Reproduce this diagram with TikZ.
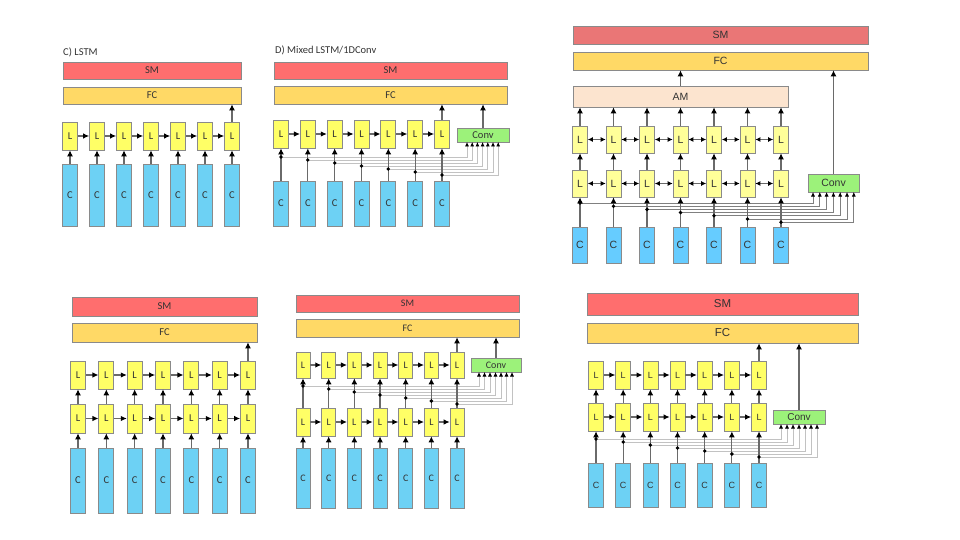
\documentclass[tikz,border=0pt]{standalone}
\usepackage{fontspec}
\setmainfont{Carlito}
\newfontfamily\arialfont{Liberation Sans}
\usetikzlibrary{arrows.meta}
\usepackage{xcolor}

\definecolor{smred}{HTML}{FF6E6E}
\definecolor{smdull}{HTML}{EA7676}
\definecolor{fcgold}{HTML}{FFD966}
\definecolor{lyel}{HTML}{FFFF66}
\definecolor{lpale}{HTML}{FFFF99}
\definecolor{cblue}{HTML}{6DD1F4}
\definecolor{cbright}{HTML}{66CCFF}
\definecolor{convgreen}{HTML}{9CF27A}
\definecolor{amcol}{HTML}{FCE4CF}
\definecolor{boxline}{HTML}{8A8A8A}
\definecolor{wire}{HTML}{6A6A6A}
\definecolor{routegray}{HTML}{C2C2C2}

\begin{document}
\begin{tikzpicture}[x=1pt,y=-1pt,
    blk/.style={draw=boxline, line width=0.7pt, inner sep=0pt, text=black!80,
      font=\fontsize{10.5}{12}\selectfont},
    smbar/.style={blk, fill=smred},
    fcbar/.style={blk, fill=fcgold},
    lcell/.style={blk, fill=lyel, minimum width=15pt},
    ccell/.style={blk, fill=cblue, minimum width=15pt},
    convbox/.style={blk, fill=convgreen},
    ambar/.style={blk, fill=amcol},
    ttl/.style={inner sep=0pt, text=black!80, font=\fontsize{10.5}{12}\selectfont},
    feed/.style={draw=wire, line width=1.1pt, -{Latex[length=6pt,width=6pt,color=black]}},
    link/.style={draw=wire, line width=1.1pt, -{Latex[length=6pt,width=5.5pt,color=black]}},
    bilink/.style={draw=wire, line width=1.1pt,
      {Latex[length=5pt,width=5pt,color=black]}-{Latex[length=5pt,width=5pt,color=black]}},
    route/.style={draw=routegray, line width=0.7pt, -{Latex[length=4.5pt,width=4pt,color=black]}},
    dot/.style={circle, fill=black, inner sep=0pt, minimum size=3.8pt}]

    \useasboundingbox[fill=white] (0,0) rectangle (960,540);

    % C) LSTM
    \node[ttl, anchor=west] (a-ttl) at (63,52) {C) LSTM};
    \node[smbar, minimum width=178pt, minimum height=17pt] (a-sm) at (152,70.5) {SM};
    \node[fcbar, minimum width=178pt, minimum height=17pt] (a-fc) at (152,95.5) {FC};
    \foreach \i in {1,...,7} {
        \pgfmathsetmacro\xx{70+27*(\i-1)}
        \node[lcell, minimum height=28pt] (a-l\i) at (\xx,136) {L};
        \node[ccell, minimum height=62pt] (a-c\i) at (\xx,195) {C};
        \draw[feed] (a-c\i) -- (a-l\i);
    }
    \foreach \i [count=\j from 2] in {1,...,6}
        \draw[link] (a-l\i) -- (a-l\j);
    \draw[feed] (a-l7) -- (a-l7.north |- a-fc.south);

    % D) Mixed LSTM/1DConv
    \node[ttl, anchor=west] (b-ttl) at (275,50) {D) Mixed LSTM/1DConv};
    \node[smbar, minimum width=233pt, minimum height=17pt] (b-sm) at (390.5,70.5) {SM};
    \node[fcbar, minimum width=233pt, minimum height=18pt] (b-fc) at (390.5,95) {FC};
    \node[convbox, minimum width=52pt, minimum height=14pt] (b-conv) at (483,135) {Conv};
    \foreach \i in {1,...,7} {
        \pgfmathsetmacro\xx{281+26.83*(\i-1)}
        \pgfmathsetmacro\yy{157+3*(\i-1)}
        \pgfmathsetmacro\xin{467+5.2*(\i-1)}
        \node[lcell, minimum height=28pt] (b-l\i) at (\xx,134) {L};
        \node[ccell, minimum height=45pt] (b-c\i) at (\xx,203.5) {C};
        \coordinate (b-p\i) at (\xx,\yy);
        \coordinate (b-in\i) at (\xin,142);
        \draw[route] (b-p\i) -| (b-in\i);
    }
    \foreach \i in {1,...,7} {
        \draw[feed] (b-c\i) -- (b-l\i);
        \node[dot] (b-dot\i) at (b-p\i) {};
    }
    \foreach \i [count=\j from 2] in {1,...,6}
        \draw[link] (b-l\i) -- (b-l\j);
    \draw[feed] (b-l7) -- (b-l7.north |- b-fc.south);
    \draw[feed] (b-conv) -- (b-conv.north |- b-fc.south);

    % attention model with bidirectional layers
    \begin{scope}[blk/.append style={font=\arialfont\fontsize{10.5}{12}\selectfont},
        smbar/.append style={fill=smdull}, lcell/.append style={fill=lpale},
        ccell/.append style={fill=cbright}, route/.append style={draw=gray}]
    \node[smbar, minimum width=295pt, minimum height=18pt] (c-sm) at (720.5,35) {SM};
    \node[fcbar, minimum width=295pt, minimum height=18pt] (c-fc) at (720.5,61) {FC};
    \node[ambar, minimum width=215pt, minimum height=21pt] (c-am) at (680.5,96.5) {AM};
    \node[convbox, minimum width=51pt, minimum height=18pt] (c-conv) at (833.5,183) {Conv};
    \foreach \i in {1,...,7} {
        \pgfmathsetmacro\xx{580+33.5*(\i-1)}
        \pgfmathsetmacro\yy{203+3.2*(\i-1)}
        \pgfmathsetmacro\xin{813+6.8*(\i-1)}
        \node[lcell, minimum height=27pt] (c-t\i) at (\xx,139.5) {L};
        \node[lcell, minimum height=27pt] (c-b\i) at (\xx,183.5) {L};
        \node[ccell, minimum height=36pt] (c-c\i) at (\xx,245) {C};
        \coordinate (c-p\i) at (\xx,\yy);
        \coordinate (c-in\i) at (\xin,192);
        \draw[route] (c-p\i) -| (c-in\i);
    }
    \foreach \i in {1,...,7} {
        \draw[feed] (c-c\i) -- (c-b\i);
        \draw[feed] (c-b\i) -- (c-t\i);
        \draw[feed] (c-t\i) -- (c-t\i.north |- c-am.south);
        \node[dot] (c-dot\i) at (c-p\i) {};
    }
    \foreach \i [count=\j from 2] in {1,...,6} {
        \draw[bilink] (c-t\i) -- (c-t\j);
        \draw[bilink] (c-b\i) -- (c-b\j);
    }
    \draw[feed] (c-am) -- (c-am.north |- c-fc.south);
    \draw[feed] (c-conv) -- (c-conv.north |- c-fc.south);
    \end{scope}

    % stacked LSTM
    \node[smbar, minimum width=185pt, minimum height=19pt] (d-sm) at (164.5,306.5) {SM};
    \node[fcbar, minimum width=185pt, minimum height=19pt] (d-fc) at (164.5,332.5) {FC};
    \foreach \i in {1,...,7} {
        \pgfmathsetmacro\xx{78+28.33*(\i-1)}
        \node[lcell, minimum height=28pt] (d-t\i) at (\xx,375) {L};
        \node[lcell, minimum height=29pt] (d-b\i) at (\xx,418.5) {L};
        \node[ccell, minimum height=65pt] (d-c\i) at (\xx,480.5) {C};
        \draw[feed] (d-c\i) -- (d-b\i);
        \draw[feed] (d-b\i) -- (d-t\i);
    }
    \foreach \i [count=\j from 2] in {1,...,6} {
        \draw[link] (d-t\i) -- (d-t\j);
        \draw[link] (d-b\i) -- (d-b\j);
    }
    \draw[feed] (d-t7) -- (d-t7.north |- d-fc.south);

    % stacked LSTM, conv on the upper layer
    \begin{scope}[blk/.append style={font=\fontsize{10}{12}\selectfont},
        lcell/.append style={minimum width=14pt}, ccell/.append style={minimum width=14pt}]
    \node[smbar, minimum width=223pt, minimum height=17pt] (e-sm) at (407.5,303.5) {SM};
    \node[fcbar, minimum width=223pt, minimum height=18pt] (e-fc) at (407.5,328) {FC};
    \node[convbox, minimum width=50pt, minimum height=14pt] (e-conv) at (496,365) {Conv};
    \foreach \i in {1,...,7} {
        \pgfmathsetmacro\xx{303+25.67*(\i-1)}
        \pgfmathsetmacro\yy{386+3*(\i-1)}
        \pgfmathsetmacro\xin{479+5.5*(\i-1)}
        \node[lcell, minimum height=26pt] (e-t\i) at (\xx,365) {L};
        \node[lcell, minimum height=28pt] (e-b\i) at (\xx,422) {L};
        \node[ccell, minimum height=60pt] (e-c\i) at (\xx,478) {C};
        \coordinate (e-p\i) at (\xx,\yy);
        \coordinate (e-in\i) at (\xin,372);
        \draw[route] (e-p\i) -| (e-in\i);
    }
    \foreach \i in {1,...,7} {
        \draw[feed] (e-c\i) -- (e-b\i);
        \draw[feed] (e-b\i) -- (e-t\i);
        \node[dot] (e-dot\i) at (e-p\i) {};
    }
    \foreach \i [count=\j from 2] in {1,...,6} {
        \draw[link] (e-t\i) -- (e-t\j);
        \draw[link] (e-b\i) -- (e-b\j);
    }
    \draw[feed] (e-t7) -- (e-t7.north |- e-fc.south);
    \draw[feed] (e-conv) -- (e-conv.north |- e-fc.south);
    \end{scope}

    % stacked LSTM, conv on the input
    \begin{scope}[blk/.append style={font=\arialfont\fontsize{9}{11}\selectfont}]
    \node[smbar, minimum width=271pt, minimum height=22pt, font=\arialfont\fontsize{11.5}{13}\selectfont] (f-sm) at (722.5,304) {SM};
    \node[fcbar, minimum width=271pt, minimum height=20pt, font=\arialfont\fontsize{11.5}{13}\selectfont] (f-fc) at (722.5,333) {FC};
    \node[convbox, minimum width=52pt, minimum height=14pt, font=\arialfont\fontsize{10}{11}\selectfont] (f-conv) at (799,417) {Conv};
    \foreach \i in {1,...,7} {
        \pgfmathsetmacro\xx{596+27.17*(\i-1)}
        \pgfmathsetmacro\yy{439+3*(\i-1)}
        \pgfmathsetmacro\xin{781+6*(\i-1)}
        \node[lcell, minimum height=28pt] (f-t\i) at (\xx,375) {L};
        \node[lcell, minimum height=28pt] (f-b\i) at (\xx,417) {L};
        \node[ccell, minimum height=44pt] (f-c\i) at (\xx,485) {C};
        \coordinate (f-p\i) at (\xx,\yy);
        \coordinate (f-in\i) at (\xin,424);
        \draw[route] (f-p\i) -| (f-in\i);
    }
    \foreach \i in {1,...,7} {
        \draw[feed] (f-c\i) -- (f-b\i);
        \draw[feed] (f-b\i) -- (f-t\i);
        \node[dot] (f-dot\i) at (f-p\i) {};
    }
    \foreach \i [count=\j from 2] in {1,...,6} {
        \draw[link] (f-t\i) -- (f-t\j);
        \draw[link] (f-b\i) -- (f-b\j);
    }
    \draw[feed] (f-t7) -- (f-t7.north |- f-fc.south);
    \draw[feed] (f-conv) -- (f-conv.north |- f-fc.south);
    \end{scope}
\end{tikzpicture}
\end{document}
